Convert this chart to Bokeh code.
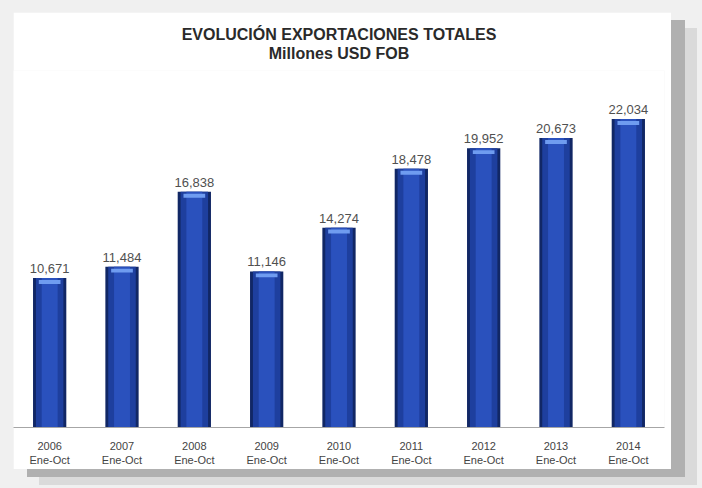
from bokeh.plotting import figure
from bokeh.models import FactorRange, Range1d, Title, ColumnDataSource
from bokeh.layouts import column
from bokeh.core.properties import value
from bokeh.embed import file_html
from bokeh.resources import INLINE

# ---- data ----
years = ["2006", "2007", "2008", "2009", "2010", "2011", "2012", "2013", "2014"]
period = "Ene-Oct"
exports = [10671, 11484, 16838, 11146, 14274, 18478, 19952, 20673, 22034]
title_main = "EVOLUCIÓN EXPORTACIONES TOTALES"
title_sub = "Millones USD FOB"

categories = [f"{y}\n{period}" for y in years]
value_labels = [f"{v:,}" for v in exports]

src = ColumnDataSource(dict(
    cat=categories,
    top=exports,
    hl_top=[v - 140 for v in exports],
    hl_bot=[v - 420 for v in exports],
    lab=value_labels,
))

p = figure(
    width=658, height=457,
    x_range=FactorRange(factors=categories, range_padding=0),
    y_range=Range1d(0, 25500),
    output_backend="svg", toolbar_location=None,
    y_axis_location=None,
    min_border_left=0, min_border_right=7,
    min_border_top=58, min_border_bottom=42,
    background_fill_color="white",
    border_fill_color="white",
    outline_line_color=None,
)
p.margin = (12, 0, 0, 13)
p.styles = {"box-shadow": "14px 8px 0px 0px #b0b0b0, 26px 16px 0px 0px #dadada"}

p.xgrid.grid_line_color = None
p.ygrid.grid_line_color = None

# bars with a cylinder-like shading
p.vbar(x="cat", top="top", bottom=0, width=0.46, source=src,
       fill_color="#112765", line_color=None)
p.vbar(x="cat", top="top", bottom=0, width=0.38, source=src,
       fill_color="#1e3f9e", line_color=None)
p.vbar(x="cat", top="top", bottom=0, width=0.22, source=src,
       fill_color="#2a51bd", line_color=None)
p.vbar(x="cat", top="hl_top", bottom="hl_bot", width=0.30, source=src,
       fill_color="#6f9cf0", line_color=None)

p.text(x="cat", y="top", text="lab", source=src,
       text_font=value("Liberation Sans"), text_font_size="13px",
       text_color="#505050", text_align="center", text_baseline="bottom",
       y_offset=-5)

ax = p.xaxis[0]
ax.axis_line_color = "#a6a6a6"
ax.axis_line_width = 1
ax.major_tick_line_color = None
ax.minor_tick_line_color = None
ax.major_label_standoff = 6
ax.major_label_text_font = "Liberation Sans"
ax.major_label_text_font_size = "11px"
ax.major_label_text_color = "#444444"

# spacer, subtitle, title (stacked upward from the plot frame)
p.add_layout(Title(text=" ", text_font_size="7px", standoff=0), "above")
p.add_layout(Title(text=title_sub, align="center", text_font="Liberation Sans",
                   text_font_size="16px", text_font_style="bold",
                   text_color="#2a2a2a", standoff=0), "above")
p.add_layout(Title(text=title_main, align="center", text_font="Liberation Sans",
                   text_font_size="16px", text_font_style="bold",
                   text_color="#2a2a2a", standoff=0), "above")

page = column(p, width=702, height=488,
              styles={"background-color": "#f0f0f0"})

open("out.html", "w").write(file_html(page, INLINE))
